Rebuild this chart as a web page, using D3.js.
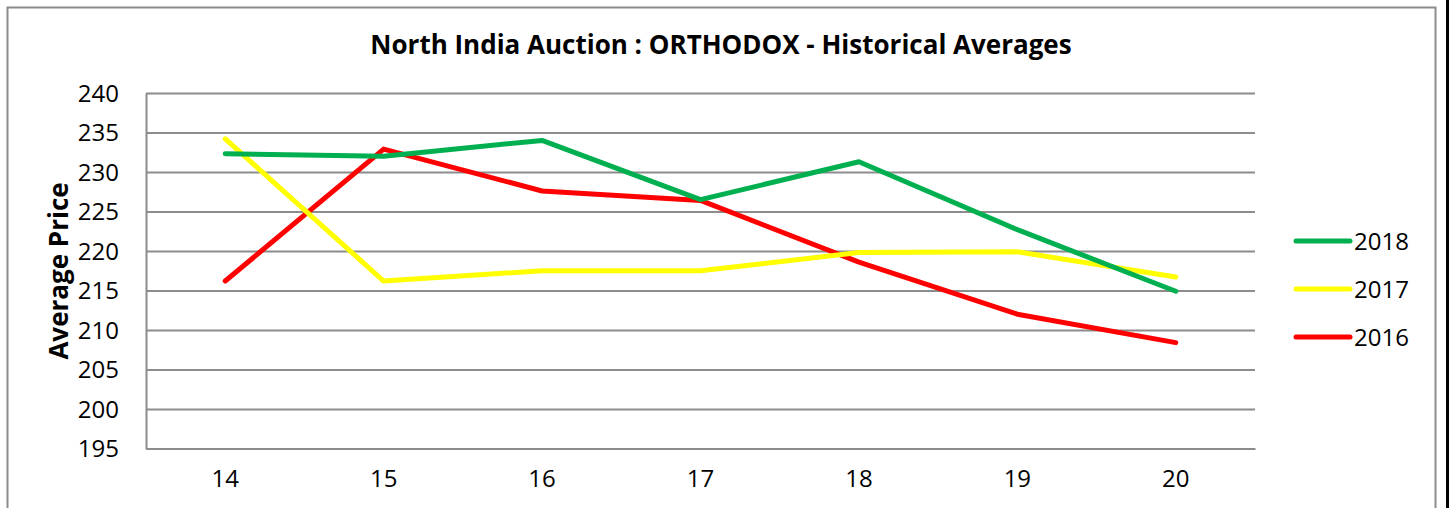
<!DOCTYPE html>
<html>
<head>
<meta charset="utf-8">
<script src="https://cdn.jsdelivr.net/npm/d3@7"></script>
<style>
  body { margin: 0; background: #fff; }
  #chart { width: 1449px; height: 508px; }
  text { font-family: "Open Sans", "DejaVu Sans", sans-serif; fill: #000; }
</style>
</head>
<body>
<div id="chart"></div>
<script>
// chart values
const weeks = ['14', '15', '16', '17', '18', '19', '20'];
const yTicks = [195, 200, 205, 210, 215, 220, 225, 230, 235, 240];
const values2018 = [232.3, 232.0, 234.0, 226.5, 231.3, 222.7, 214.9];
const values2017 = [234.2, 216.2, 217.5, 217.5, 219.8, 219.9, 216.7];
const values2016 = [216.2, 232.9, 227.6, 226.4, 218.6, 212.0, 208.4];
const seriesNames = ['2018', '2017', '2016'];
const seriesColors = ['#00B050', '#FFFF00', '#FF0000'];

const drawChart = () => {
  const svgWidth = 1449, svgHeight = 508;
  const svg = d3.select('#chart')
    .append('svg')
    .attr('width', svgWidth)
    .attr('height', svgHeight);

  // outer chart frame
  svg.append('rect')
    .attr('x', 7.5).attr('y', 7.5)
    .attr('width', 1428).attr('height', 510)
    .attr('fill', '#fff')
    .attr('stroke', '#8c8c8c')
    .attr('stroke-width', 2);
  svg.append('rect')
    .attr('x', 1446).attr('y', 0)
    .attr('width', 3).attr('height', svgHeight)
    .attr('fill', '#000');

  const margin = { top: 93, left: 146 };
  const width = 1109, height = 355.5;
  const g = svg.append('g')
    .attr('transform', 'translate(' + margin.left + ',' + margin.top + ')');

  const x = d3.scaleBand().domain(weeks).range([0, width]);
  const y = d3.scaleLinear().domain([195, 240]).range([height, 0]);

  // grid lines
  g.append('g')
    .call(d3.axisLeft(y).tickValues(yTicks).tickSize(-width).tickFormat(''))
    .call(a => a.select('.domain').remove())
    .selectAll('line')
    .attr('stroke', '#8c8c8c')
    .attr('stroke-width', 2);

  // Y axis
  const yAxis = g.append('g')
    .call(d3.axisLeft(y).tickValues(yTicks).tickSize(0).tickPadding(27));
  yAxis.select('.domain').attr('stroke', '#8c8c8c').attr('stroke-width', 2);
  yAxis.selectAll('text')
    .style('font-size', '24px')
    .attr('dy', '0.35em');

  // X axis
  const xAxis = g.append('g')
    .attr('transform', 'translate(0,' + height + ')')
    .call(d3.axisBottom(x).tickSize(0).tickPadding(21));
  xAxis.select('.domain').attr('stroke', '#8c8c8c').attr('stroke-width', 2);
  xAxis.selectAll('text').style('font-size', '24px');

  // axis title
  svg.append('text')
    .attr('transform', 'translate(68,271) rotate(-90)')
    .attr('text-anchor', 'middle')
    .style('font-size', '26px')
    .style('font-weight', 'bold')
    .text('Average Price');

  // chart title
  svg.append('text')
    .attr('x', 721).attr('y', 54)
    .attr('text-anchor', 'middle')
    .style('font-size', '26px')
    .style('font-weight', 'bold')
    .text('North India Auction : ORTHODOX - Historical Averages');

  const line = d3.line()
    .x((d, i) => x(weeks[i]) + x.bandwidth() / 2)
    .y(d => y(d));

  const series = [values2018, values2017, values2016];
  // draw 2016 first so 2018 sits on top
  [2, 1, 0].forEach(i => {
    g.append('path')
      .datum(series[i])
      .attr('fill', 'none')
      .attr('stroke', seriesColors[i])
      .attr('stroke-width', 5)
      .attr('stroke-linejoin', 'round')
      .attr('stroke-linecap', 'round')
      .attr('d', line);
  });

  // legend
  const legend = svg.append('g').attr('transform', 'translate(1296,241)');
  seriesNames.forEach((name, i) => {
    const row = legend.append('g').attr('transform', 'translate(0,' + i * 48 + ')');
    row.append('line')
      .attr('x1', 0).attr('x2', 54)
      .attr('stroke', seriesColors[i])
      .attr('stroke-width', 5)
      .attr('stroke-linecap', 'round');
    row.append('text')
      .attr('x', 58).attr('dy', '0.36em')
      .style('font-size', '24px')
      .text(name);
  });
}

drawChart();
</script>
</body>
</html>
